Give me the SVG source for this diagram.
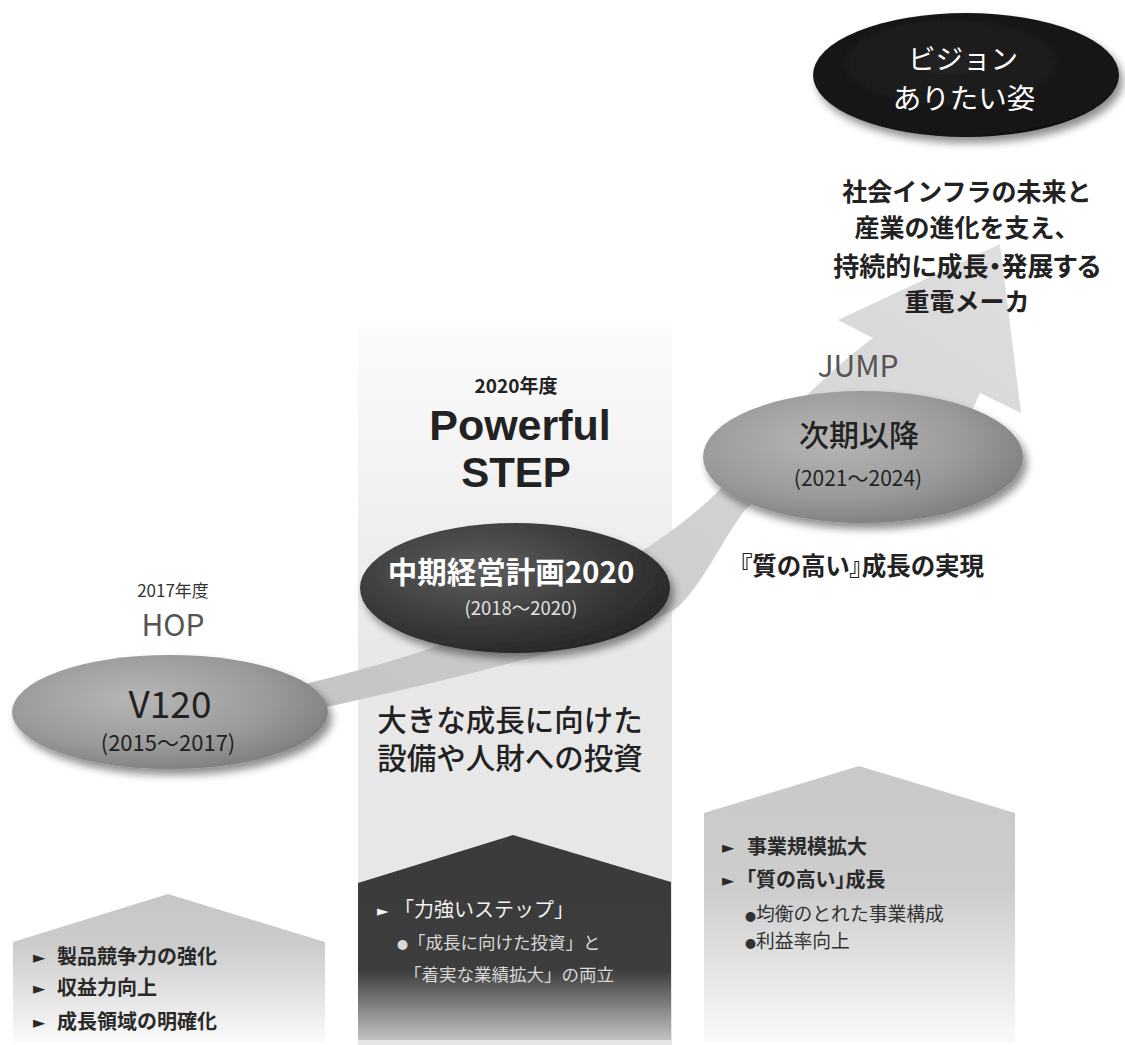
<svg xmlns="http://www.w3.org/2000/svg" width="1125" height="1045" viewBox="0 0 1125 1045">
<style>
.jp{font-family:"Noto Sans CJK JP","Noto Sans",sans-serif}
.lat{font-family:"Liberation Sans",Arial,sans-serif}
.c{text-anchor:middle}
.dk{fill:#222}
.gr{fill:#555}
.bul{font-family:"Noto Sans CJK JP","DejaVu Sans",sans-serif}
.palt{font-feature-settings:"palt"}
</style>
<defs>
<linearGradient id="gCol" x1="0" y1="0" x2="0" y2="1">
<stop offset="0" stop-color="#fbfbfb"/><stop offset="0.45" stop-color="#e8e8e8"/><stop offset="1" stop-color="#e6e6e6"/>
</linearGradient>
<linearGradient id="gDark" x1="0" y1="0" x2="0" y2="1">
<stop offset="0" stop-color="#3a3a3a"/><stop offset="0.66" stop-color="#3d3d3d"/><stop offset="1" stop-color="#c2c2c2"/>
</linearGradient>
<linearGradient id="gLeft" x1="0" y1="0" x2="0" y2="1">
<stop offset="0" stop-color="#c6c6c6"/><stop offset="0.35" stop-color="#cccccc"/><stop offset="1" stop-color="#fbfbfb"/>
</linearGradient>
<linearGradient id="gRight" x1="0" y1="0" x2="0" y2="1">
<stop offset="0" stop-color="#c9c9c9"/><stop offset="0.45" stop-color="#cdcdcd"/><stop offset="1" stop-color="#fafafa"/>
</linearGradient>
<linearGradient id="gArrow" x1="0" y1="1" x2="1" y2="0">
<stop offset="0" stop-color="#c2c2c2"/><stop offset="1" stop-color="#dfdfdf"/>
</linearGradient>
<radialGradient id="gGray" cx="0.4" cy="0.38" r="0.7">
<stop offset="0" stop-color="#b6b6b6"/><stop offset="0.6" stop-color="#9a9a9a"/><stop offset="1" stop-color="#7a7a7a"/>
</radialGradient>
<radialGradient id="gMid" cx="0.38" cy="0.35" r="0.7">
<stop offset="0" stop-color="#5e5e5e"/><stop offset="0.6" stop-color="#3c3c3c"/><stop offset="1" stop-color="#262626"/>
</radialGradient>
<radialGradient id="gBlack" cx="0.45" cy="0.4" r="0.75">
<stop offset="0" stop-color="#222"/><stop offset="0.7" stop-color="#151515"/><stop offset="1" stop-color="#0a0a0a"/>
</radialGradient>
<filter id="sh" x="-20%" y="-30%" width="150%" height="170%">
<feGaussianBlur in="SourceAlpha" stdDeviation="4"/>
<feOffset dx="4" dy="6"/>
<feComponentTransfer><feFuncA type="linear" slope="0.45"/></feComponentTransfer>
<feMerge><feMergeNode/><feMergeNode in="SourceGraphic"/></feMerge>
</filter>
</defs>

<g id="column-step">
<rect x="358" y="327" width="314" height="718" fill="url(#gCol)"/>
</g>

<g id="connectors">
<path id="growth-arrow" fill="url(#gArrow)" d="M230,700 C500,648 640,560 700,508 C750,465 790,400 873,338 L838,320 L1000,244 L1021,413 L980,393 L955,450 C850,478 775,480 745,510 C722,540 705,580 680,605 C655,630 420,690 230,727 Z"/>
</g>

<g id="node-v120">
<text class="jp c" x="173" y="597" font-size="17" fill="#333">2017年度</text>
<text class="jp c gr" x="173" y="636" font-size="30">HOP</text>
<ellipse cx="170" cy="712" rx="158" ry="57" fill="url(#gGray)" filter="url(#sh)"/>
<text class="jp c dk" x="170" y="718" font-size="37">V120</text>
<text class="jp c dk" x="168" y="751" font-size="22">(2015〜2017)</text>
</g>

<g id="node-chuki">
<text class="jp c dk" x="516" y="393" font-size="19" font-weight="700">2020年度</text>
<text class="lat c dk" x="520" y="440" font-size="43" font-weight="700">Powerful</text>
<text class="lat c dk" x="516" y="487" font-size="42" font-weight="700">STEP</text>
<ellipse cx="515" cy="588" rx="155" ry="65" fill="url(#gMid)" filter="url(#sh)"/>
<text class="jp c" x="511" y="583" font-size="29.5" font-weight="700" fill="#fff">中期経営計画2020</text>
<text class="jp c" x="521" y="615" font-size="18.5" fill="#e0e0e0">(2018〜2020)</text>
<text class="jp c dk" x="510" y="731" font-size="29.5" font-weight="500">大きな成長に向けた</text>
<text class="jp c dk" x="510" y="769" font-size="29.5" font-weight="500">設備や人財への投資</text>
</g>

<g id="node-jiki">
<text class="jp c gr" x="858" y="377" font-size="30">JUMP</text>
<ellipse cx="863" cy="457" rx="160" ry="66" fill="url(#gGray)" filter="url(#sh)"/>
<text class="jp c dk" x="859" y="446" font-size="30" font-weight="500">次期以降</text>
<text class="jp c dk" x="858" y="486" font-size="21">(2021〜2024)</text>
<text class="jp c dk palt" x="862" y="575" font-size="24.5" font-weight="700">『質の高い』成長の実現</text>
</g>

<g id="node-vision">
<ellipse cx="966" cy="75" rx="153" ry="62" fill="url(#gBlack)" filter="url(#sh)"/>
<text class="jp c" x="963" y="69" font-size="27.5" fill="#fff">ビジョン</text>
<text class="jp c" x="964" y="109" font-size="28.5" fill="#fff">ありたい姿</text>
<text class="jp c dk" x="967" y="201" font-size="25" font-weight="700">社会インフラの未来と</text>
<text class="jp c dk" x="967" y="237" font-size="25" font-weight="700">産業の進化を支え、</text>
<text class="jp c dk palt" x="967" y="276" font-size="26" font-weight="700">持続的に成長・発展する</text>
<text class="jp c dk" x="967" y="311" font-size="25" font-weight="700">重電メーカ</text>
</g>

<g id="box-hop">
<path d="M13,942 L168,894 L325,942 L325,1043 L13,1043 Z" fill="url(#gLeft)"/>
<text class="jp" font-size="20" font-weight="700" fill="#2a2a2a">
<tspan class="bul" x="33" y="963" font-size="16">►</tspan><tspan x="57" y="964">製品競争力の強化</tspan>
<tspan class="bul" x="33" y="994" font-size="16">►</tspan><tspan x="57" y="995">収益力向上</tspan>
<tspan class="bul" x="33" y="1028" font-size="16">►</tspan><tspan x="57" y="1029">成長領域の明確化</tspan>
</text>
</g>

<g id="box-step">
<path d="M358,883 L513,835 L671,882 L671,1040 L358,1040 Z" fill="url(#gDark)"/>
<text class="jp" font-size="20" fill="#f2f2f2">
<tspan class="bul" x="377" y="916" font-size="15">►</tspan><tspan x="394" y="917">「力強いステップ」</tspan>
</text>
<text class="jp" font-size="17.5" fill="#d8d8d8">
<tspan class="bul" x="397" y="949" font-size="11">●</tspan><tspan x="408" y="949">「成長に向けた投資」と</tspan>
<tspan x="404" y="981">「着実な業績拡大」の両立</tspan>
</text>
</g>

<g id="box-jump">
<path d="M704,813 L859,766 L1015,813 L1015,1043 L704,1043 Z" fill="url(#gRight)"/>
<text class="jp" font-size="20" font-weight="700" fill="#2a2a2a">
<tspan class="bul" x="722" y="853" font-size="16">►</tspan><tspan x="747" y="854">事業規模拡大</tspan>
<tspan class="bul" x="722" y="886" font-size="16">►</tspan><tspan class="palt" x="746" y="887">「質の高い」成長</tspan>
</text>
<text class="jp" font-size="18.8" fill="#333">
<tspan class="bul" x="745" y="921" font-size="11">●</tspan><tspan x="756" y="921">均衡のとれた事業構成</tspan>
<tspan class="bul" x="745" y="948" font-size="11">●</tspan><tspan x="756" y="948">利益率向上</tspan>
</text>
</g>
</svg>
